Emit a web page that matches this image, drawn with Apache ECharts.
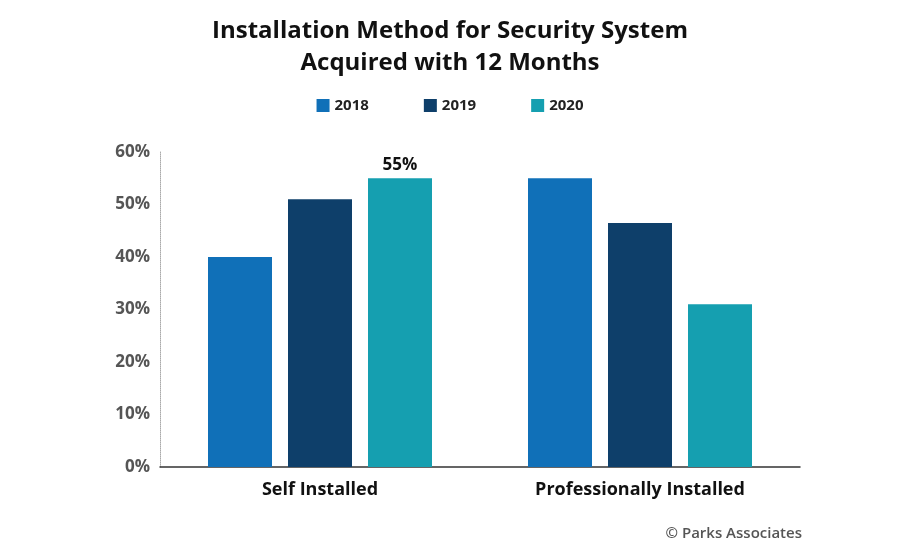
<!DOCTYPE html>
<html>
<head>
<meta charset="utf-8">
<script src="https://cdn.jsdelivr.net/npm/echarts@6/dist/echarts.min.js"></script>
<style>html,body,#main{width:100%;height:100%;margin:0;background:#fff;}</style>
</head>
<body>
<div id="main"></div>
<script>
var categories = ['Self Installed', 'Professionally Installed'];
var years = ['2018', '2019', '2020'];
var v2018 = [40, 55];
var v2019 = [51, 46.5];
var v2020 = [55, 31];
var colors = ['#1070b8', '#0e3f6a', '#159fb0'];

var chart = echarts.init(document.getElementById('main'));
var font = '"Open Sans", sans-serif';

function makeSeries(name, data, color, labelIdx) {
    return {
        name: name,
        type: 'bar',
        barWidth: 64,
        barGap: '25%',
        itemStyle: { color: color },
        data: data.map(function (v, i) {
            var d = { value: v };
            if (i === labelIdx) {
                d.label = {
                    show: true, position: 'top', formatter: v + '%',
                    fontFamily: font, fontWeight: 'bold', fontSize: 17, color: '#111'
                };
            }
            return d;
        })
    };
}

chart.setOption({
    animation: false,
    title: {
        text: 'Installation Method for Security System\nAcquired with 12 Months',
        left: 'center', top: 10,
        textStyle: { fontFamily: font, fontWeight: 'bold', fontSize: 24, color: '#111', lineHeight: 32 }
    },
    legend: {
        top: 93, left: 'center', itemGap: 55, itemWidth: 13, itemHeight: 13, icon: 'rect',
        textStyle: { fontFamily: font, fontWeight: 'bold', fontSize: 15, color: '#222' }
    },
    graphic: [{
        type: 'text', right: 98, top: 526,
        style: { text: '© Parks Associates', font: '600 15px "Open Sans", sans-serif', fill: '#555' }
    }],
    grid: { left: 160, right: 100, top: 152, bottom: 83 },
    xAxis: {
        type: 'category', data: categories,
        axisTick: { show: false },
        axisLine: { lineStyle: { color: '#333', width: 1.5 } },
        axisLabel: { fontFamily: font, fontWeight: 'bold', fontSize: 18, color: '#111', margin: 14 }
    },
    yAxis: {
        type: 'value', min: 0, max: 60, interval: 10,
        axisLine: { show: true, lineStyle: { color: '#aaa', type: 'dotted' } },
        axisTick: { show: false },
        splitLine: { show: false },
        axisLabel: { formatter: '{value}%', fontFamily: font, fontWeight: 'bold', fontSize: 17, color: '#555', margin: 10 }
    },
    series: [
        makeSeries(years[0], v2018, colors[0], -1),
        makeSeries(years[1], v2019, colors[1], -1),
        makeSeries(years[2], v2020, colors[2], 0)
    ]
});
</script>
</body>
</html>
